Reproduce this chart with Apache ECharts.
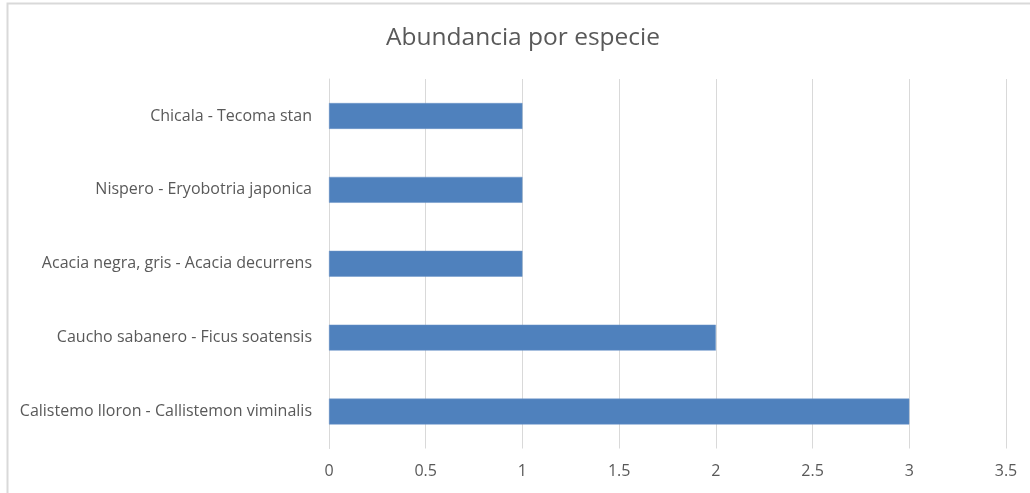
<!DOCTYPE html>
<html>
<head>
<meta charset="utf-8">
<script src="https://cdn.jsdelivr.net/npm/echarts@6/dist/echarts.min.js"></script>
<style>
html,body{margin:0;padding:0;background:#fff;}
#c{width:1030px;height:493px;}
</style>
</head>
<body>
<div id="c"></div>
<script>
const categories = [
  "Calistemo lloron - Callistemon viminalis",
  "Caucho sabanero - Ficus soatensis",
  "Acacia negra, gris - Acacia decurrens",
  "Nispero - Eryobotria japonica",
  "Chicala - Tecoma stan"
];
const abundance = [3, 2, 1, 1, 1];
const titleText = "Abundancia por especie";

const chart = echarts.init(document.getElementById('c'), null, {renderer: 'canvas'});
const font = "'Open Sans', 'Noto Sans', sans-serif";
chart.setOption({
  animation: false,
  backgroundColor: '#ffffff',
  title: {
    text: titleText,
    left: 386,
    top: 26,
    padding: 0,
    textStyle: {fontFamily: font, fontSize: 24.5, fontWeight: 'normal', color: '#595959'}
  },
  graphic: [{
    type: 'rect',
    shape: {x: 7.5, y: 3.5, width: 1040, height: 520},
    style: {fill: 'none', stroke: '#d9d9d9', lineWidth: 2},
    silent: true
  }],
  grid: {left: 329, right: 24, top: 79, bottom: 44.5, containLabel: false},
  xAxis: {
    type: 'value',
    min: 0, max: 3.5, interval: 0.5,
    axisLine: {show: false},
    axisTick: {show: false},
    splitLine: {show: true, lineStyle: {color: '#d9d9d9', width: 1}},
    axisLabel: {fontFamily: font, fontSize: 16, color: '#595959', margin: 15}
  },
  yAxis: {
    type: 'category',
    data: categories,
    axisLine: {show: true, lineStyle: {color: '#d9d9d9', width: 1}},
    axisTick: {show: false},
    splitLine: {show: false},
    axisLabel: {fontFamily: font, fontSize: 16, color: '#595959', margin: 17}
  },
  series: [{
    type: 'bar',
    data: abundance,
    barCategoryGap: '65%',
    itemStyle: {color: '#4f81bd', borderColor: '#6a95c9', borderWidth: 0.5}
  }]
});
</script>
</body>
</html>
